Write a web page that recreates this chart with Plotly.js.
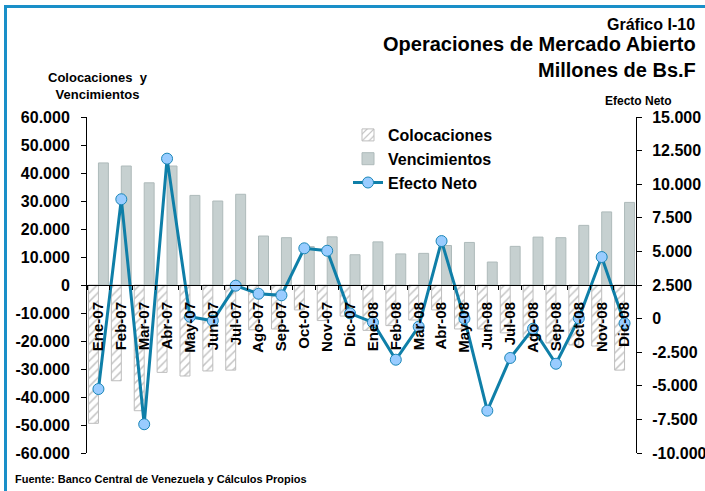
<!DOCTYPE html>
<html>
<head>
<meta charset="utf-8">
<script src="https://cdn.plot.ly/plotly-3.0.1.min.js"></script>
<style>
  html, body { margin: 0; padding: 0; background: #fff; }
  #wrap { position: relative; width: 705px; height: 491px; overflow: hidden; }
  #frame { position: absolute; left: 4px; top: 5px; width: 710px; height: 500px;
           border-left: 3px solid #1a8fc8; border-top: 3px solid #1a8fc8; pointer-events: none; }
  #chart { position: absolute; left: 0; top: 0; width: 705px; height: 491px; }
</style>
</head>
<body>
<div id="wrap">
  <div id="chart"></div>
  <div id="frame"></div>
</div>
<script>
// ---- Data ----
const months = ["Ene-07","Feb-07","Mar-07","Abr-07","May-07","Jun-07","Jul-07","Ago-07","Sep-07","Oct-07","Nov-07","Dic-07",
                "Ene-08","Feb-08","Mar-08","Abr-08","May-08","Jun-08","Jul-08","Ago-08","Sep-08","Oct-08","Nov-08","Dic-08"];
const colocaciones = [-49400,-34200,-44900,-31200,-32500,-30700,-30400,-16000,-15700,-8900,-12700,-11100,
                      -16200,-14500,-12500,-8900,-15700,-15700,-17100,-18700,-20700,-21400,-21800,-30400];
const vencimientos = [43600,42500,36500,42500,32000,30000,32400,17500,16900,13700,17200,10800,
                      15400,11100,11300,14100,15200,8200,13800,17100,16900,21300,26100,29500];
const efectoNeto = [-5240,8880,-7860,11900,140,-160,2450,1850,1730,5230,5050,390,
                    -280,-3060,-600,5770,0,-6850,-2930,-750,-3360,20,4580,-350];
const leftTickVals = [60000,50000,40000,30000,20000,10000,0,-10000,-20000,-30000,-40000,-50000,-60000];
const leftTickText = ["60.000","50.000","40.000","30.000","20.000","10.000","0","-10.000","-20.000","-30.000","-40.000","-50.000","-60.000"];
const rightTickVals = [15000,12500,10000,7500,5000,2500,0,-2500,-5000,-7500,-10000];
const rightTickText = ["15.000","12.500","10.000","7.500","5.000","2.500","0","-2.500","-5.000","-7.500","-10.000"];

// ---- Layout helpers ----
const W = 705, H = 491;
const M = {l: 87, r: 69, t: 117, b: 38};
const PW = W - M.l - M.r, PH = H - M.t - M.b;
const px = x => (x - M.l) / PW;
const py = y => (H - M.b - y) / PH;
const FAM = "Liberation Sans, Arial, sans-serif";
const bold = (size) => ({family: FAM, size: size, color: "#000", weight: "bold"});

const traces = [
  {
    type: "bar", name: "Colocaciones", x: months, y: colocaciones, yaxis: "y",
    marker: {color: "#ffffff", line: {color: "#bdbdbd", width: 1},
             pattern: {shape: "/", fgcolor: "#c4c4c4", bgcolor: "#ffffff", size: 6, solidity: 0.25}},
    legendgroup: "a", hoverinfo: "x+y"
  },
  {
    type: "bar", name: "Vencimientos", x: months, y: vencimientos, yaxis: "y",
    marker: {color: "#c6d0d0", line: {color: "#aebaba", width: 1}},
    legendgroup: "b", hoverinfo: "x+y"
  },
  {
    type: "scatter", mode: "lines+markers", name: "Efecto Neto", x: months, y: efectoNeto, yaxis: "y2",
    line: {color: "#0f7fa8", width: 3},
    marker: {size: 11, color: "#99ccff", line: {color: "#1a86b8", width: 1}},
    legendgroup: "c"
  }
];

const layout = {
  width: W, height: H,
  margin: {l: M.l, r: M.r, t: M.t, b: M.b, pad: 0},
  paper_bgcolor: "#ffffff", plot_bgcolor: "#ffffff",
  font: bold(15),
  showlegend: true,
  legend: {x: px(348), y: py(118), xanchor: "left", yanchor: "top",
           font: bold(16), bgcolor: "rgba(0,0,0,0)", itemwidth: 30, tracegroupgap: 0},
  barmode: "group", bargap: 0.13, bargroupgap: 0,
  xaxis: {
    type: "category", range: [-0.5, 23.5], anchor: "free", position: 0.5,
    showline: true, linecolor: "#000", linewidth: 1, showgrid: false, zeroline: false,
    ticks: "outside", tickson: "boundaries", ticklen: 4, tickcolor: "#000",
    tickangle: -90, tickfont: bold(15), ticklabelstandoff: 10, fixedrange: true
  },
  yaxis: {
    range: [-60000, 60000], tickvals: leftTickVals, ticktext: leftTickText,
    showline: true, linecolor: "#000", linewidth: 1, showgrid: false, zeroline: false,
    ticks: "outside", ticklen: 5, tickcolor: "#000", tickfont: bold(16), ticklabelstandoff: 8
  },
  yaxis2: {
    overlaying: "y", side: "right", range: [-10000, 15000], tickvals: rightTickVals, ticktext: rightTickText,
    showline: true, linecolor: "#000", linewidth: 1, showgrid: false, zeroline: false,
    ticks: "outside", ticklen: 5, tickcolor: "#000", tickfont: bold(16), ticklabelstandoff: 7
  },
  yaxis3: {
    overlaying: "y", side: "right", range: [-10000, 15000], tickvals: rightTickVals,
    showticklabels: false, showline: false, showgrid: false, zeroline: false,
    ticks: "inside", ticklen: 5, tickcolor: "#000"
  },
  annotations: [
    {text: "Gráfico I-10", xref: "paper", yref: "paper", x: px(697), y: py(24), xanchor: "right", yanchor: "middle", showarrow: false, font: bold(16)},
    {text: "Operaciones de Mercado Abierto", xref: "paper", yref: "paper", x: px(698), y: py(44), xanchor: "right", yanchor: "middle", showarrow: false, font: bold(20)},
    {text: "Millones de Bs.F", xref: "paper", yref: "paper", x: px(698), y: py(70), xanchor: "right", yanchor: "middle", showarrow: false, font: bold(20)},
    {text: "Colocaciones  y<br>Vencimientos", xref: "paper", yref: "paper", x: px(98), y: py(86), xanchor: "center", yanchor: "middle", showarrow: false, font: bold(13), align: "center"},
    {text: "Efecto Neto", xref: "paper", yref: "paper", x: px(638), y: py(101), xanchor: "center", yanchor: "middle", showarrow: false, font: bold(12)},
    {text: "Fuente: Banco Central de Venezuela y Cálculos Propios", xref: "paper", yref: "paper", x: px(13), y: py(479), xanchor: "left", yanchor: "middle", showarrow: false, font: bold(11)}
  ]
};

Plotly.newPlot("chart", traces, layout, {displayModeBar: false, staticPlot: true});
</script>
</body>
</html>
